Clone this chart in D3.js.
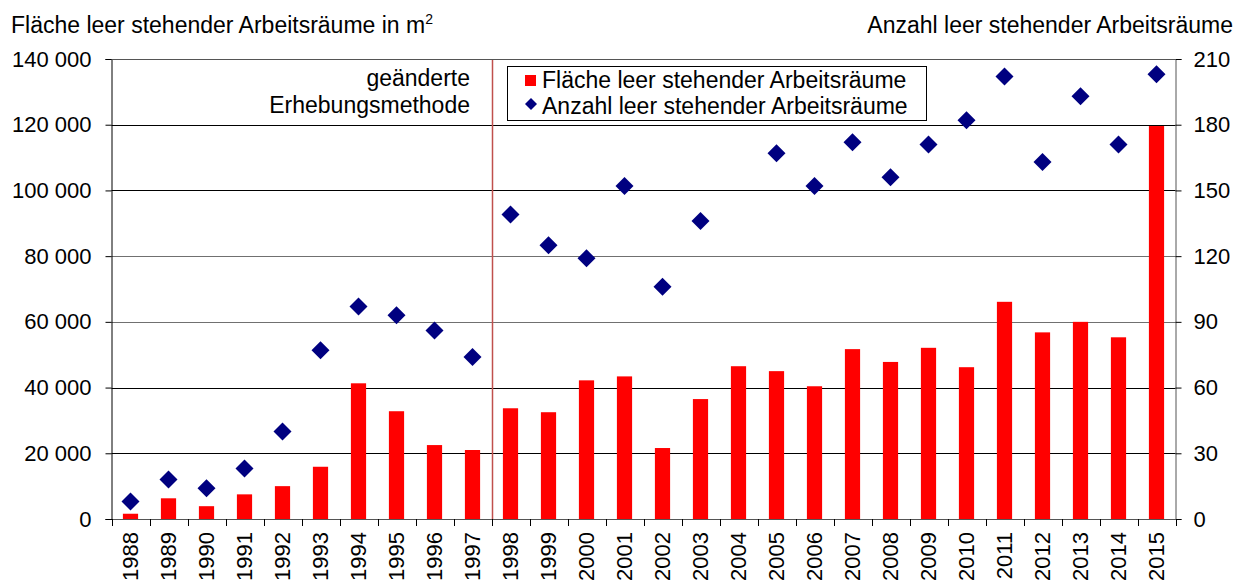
<!DOCTYPE html>
<html><head><meta charset="utf-8">
<script src="https://cdn.jsdelivr.net/npm/d3@7"></script>
<style>body{margin:0;background:#fff}svg{display:block;font-family:"Liberation Sans",Arial,sans-serif}</style>
</head><body><svg id="c" width="1244" height="582"></svg>
<script>
const years = ["1988","1989","1990","1991","1992","1993","1994","1995","1996","1997","1998","1999","2000","2001","2002","2003","2004","2005","2006","2007","2008","2009","2010","2011","2012","2013","2014","2015"];
const flaeche = [1600,6300,3900,7500,10000,15900,41300,32800,22500,21000,33700,32500,42200,43400,21600,36500,46500,45000,40400,51700,47800,52100,46200,66100,56800,60000,55300,119600];
const anzahl = [8,18,14,23,40,77,97,93,86,74,139,125,119,152,106,136,195,167,152,172,156,171,182,202,163,193,171,203];
const leftTicks = [0,20000,40000,60000,80000,100000,120000,140000];
const rightTicks = [0,30,60,90,120,150,180,210];
const titleLeft = "Fläche leer stehender Arbeitsräume in m";
const titleRight = "Anzahl leer stehender Arbeitsräume";
const legendLabels = ["Fläche leer stehender Arbeitsräume","Anzahl leer stehender Arbeitsräume"];
const noteLines = ["geänderte","Erhebungsmethode"];
const breakAfter = "1997";

const FONT = "Liberation Sans, Arial, sans-serif";
const svg = d3.select("#c");
const L = 111.5, R = 1175.5, T = 59, B = 519;
const x = d3.scaleBand().domain(years).range([L,R]).paddingInner(0.6).paddingOuter(0.3);
const xb = d3.scaleBand().domain(years).range([L,R]);
const yL = d3.scaleLinear().domain([0,140000]).range([B,T]);
const yR = d3.scaleLinear().domain([0,210]).range([B,T]);
const fmt = v => d3.format(",")(v).replace(/,/g," ");
const diamond = r => `M0,${-r}L${r},0L0,${r}L${-r},0Z`;
const grayLines = new Set([0,60000,80000,140000]);

// gridlines
svg.append("g").selectAll("line").data(leftTicks).join("line")
  .attr("x1",L).attr("x2",R).attr("y1",d=>Math.round(yL(d))+0.5).attr("y2",d=>Math.round(yL(d))+0.5)
  .attr("stroke",d=>grayLines.has(d)? "#707070":"#000").attr("stroke-width",1);

// bars
svg.append("g").selectAll("rect").data(years).join("rect")
  .attr("x",d=>x(d)).attr("width",x.bandwidth())
  .attr("y",(d,i)=>yL(flaeche[i])).attr("height",(d,i)=>B-yL(flaeche[i]))
  .attr("fill","#ff0000");

// break line
const bx = Math.round(xb(breakAfter)+xb.bandwidth())+0.5;
svg.append("line").attr("x1",bx).attr("x2",bx).attr("y1",T).attr("y2",B).attr("stroke","#c0504d").attr("stroke-width",1.5);

// diamonds
svg.append("g").selectAll("path").data(years).join("path")
  .attr("d",diamond(9)).attr("transform",(d,i)=>`translate(${xb(d)+xb.bandwidth()/2},${yR(anzahl[i])})`)
  .attr("fill","#000080");

// left axis
const gl = svg.append("g").attr("transform",`translate(${L},0)`)
  .call(d3.axisLeft(yL).tickValues(leftTicks).tickFormat(fmt).tickSize(6).tickPadding(14));
gl.selectAll("text").style("font-size","22px").style("font-family",FONT).attr("fill","#000");
gl.select(".domain").attr("stroke","#000");
gl.selectAll(".tick line").attr("stroke","#000");
// right axis
const gr = svg.append("g").attr("transform",`translate(${R},0)`)
  .call(d3.axisRight(yR).tickValues(rightTicks).tickSize(6).tickPadding(12));
gr.selectAll("text").style("font-size","22px").style("font-family",FONT).attr("fill","#000");
gr.select(".domain").attr("stroke","#555");
// top border
svg.append("line").attr("x1",L).attr("x2",R).attr("y1",T+0.5).attr("y2",T+0.5).attr("stroke","#555");
// bottom axis
const gb = svg.append("g").attr("transform",`translate(0,${B})`)
  .call(d3.axisBottom(xb).tickSize(0).tickPadding(0));
gb.select(".domain").attr("stroke","#555");
gb.selectAll(".tick text").style("font-size","22px").style("font-family",FONT).attr("fill","#000")
  .attr("transform","translate(0,13) rotate(-90)").attr("text-anchor","end").attr("dy","0.36em").attr("x",0).attr("y",0);
// category boundary ticks
svg.append("g").selectAll("line").data(years.concat(["end"])).join("line")
  .attr("x1",(d,i)=>Math.round(L+i*xb.step())+0.5).attr("x2",(d,i)=>Math.round(L+i*xb.step())+0.5)
  .attr("y1",B).attr("y2",B+7).attr("stroke","#000");

// titles
const tl = svg.append("text").attr("x",11).attr("y",33).style("font-size","23px").attr("fill","#000").text(titleLeft);
tl.append("tspan").style("font-size","14px").attr("dy",-9).text("2");
svg.append("text").attr("x",1233).attr("y",33).attr("text-anchor","end").style("font-size","23px").attr("fill","#000").text(titleRight);

// note
svg.append("g").selectAll("text").data(noteLines).join("text")
  .attr("x",470).attr("y",(d,i)=>86+i*27).attr("text-anchor","end").style("font-size","23px").attr("fill","#000").text(d=>d);

// legend
const lg = svg.append("g");
lg.append("rect").attr("x",507.5).attr("y",66.5).attr("width",419).attr("height",54).attr("fill","#fff").attr("stroke","#000");
lg.append("rect").attr("x",525).attr("y",75).attr("width",11).attr("height",11).attr("fill","#ff0000");
lg.append("path").attr("d",diamond(6)).attr("transform","translate(531,104)").attr("fill","#000080");
lg.selectAll("text.l").data(legendLabels).join("text").attr("class","l")
  .attr("x",542).attr("y",(d,i)=>88+i*26).style("font-size","23px").attr("fill","#000").text(d=>d);
</script></body></html>
